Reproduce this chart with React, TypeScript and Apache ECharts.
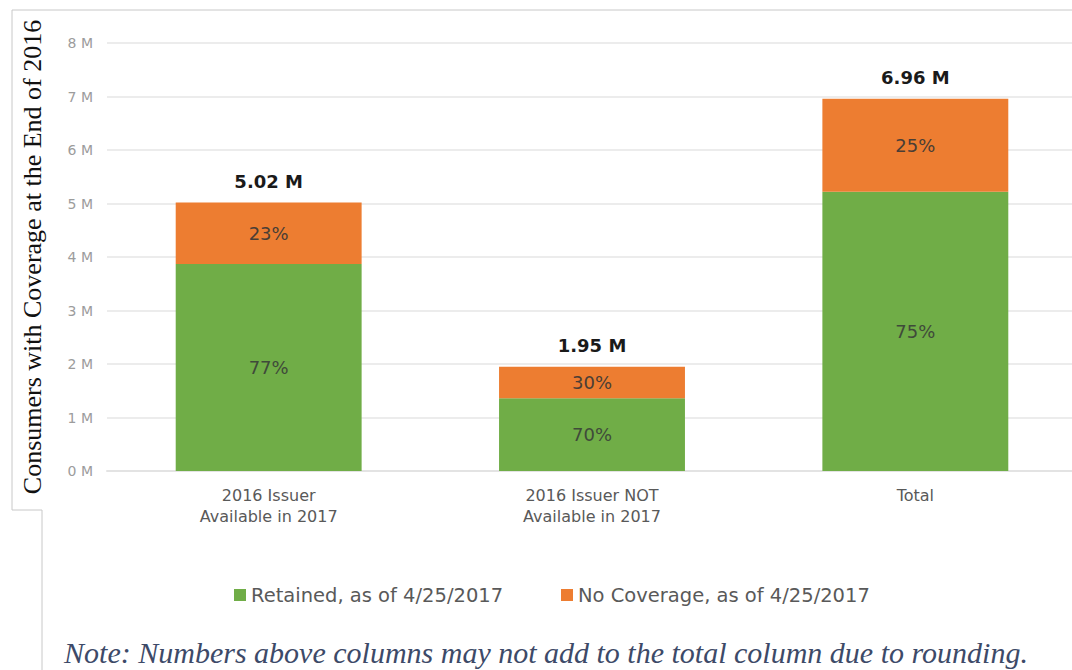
import React, { useEffect, useRef } from "react";
import * as echarts from "echarts";

const categories = ["2016 Issuer\nAvailable in 2017", "2016 Issuer NOT\nAvailable in 2017", "Total"];
const retained = [3.87, 1.36, 5.22];
const noCoverage = [1.15, 0.59, 1.74];
const retainedPct = ["77%", "70%", "75%"];
const noCoveragePct = ["23%", "30%", "25%"];
const totals = ["5.02 M", "1.95 M", "6.96 M"];
const seriesNames = ["Retained, as of 4/25/2017", "No Coverage, as of 4/25/2017"];
const yTitle = "Consumers with Coverage at the End of 2016";
const note = "Note: Numbers above columns may not add to the total column due to rounding.";

const SANS = "'DejaVu Sans', 'Noto Sans', sans-serif";
const SERIF = "'Liberation Serif', 'DejaVu Serif', serif";

export default function App() {
  const ref = useRef<HTMLDivElement>(null);
  useEffect(() => {
    if (!ref.current) return;
    const chart = echarts.init(ref.current, null, { renderer: "svg" });
    const legendText = { fontFamily: SANS, fontSize: 19.5, color: "#595959" };
    chart.setOption({
      animation: false,
      backgroundColor: "#ffffff",
      grid: { left: 107, right: 13, top: 43, bottom: 199 },
      legend: [
        {
          left: 229,
          top: 580,
          itemWidth: 12,
          itemHeight: 12,
          itemGap: 7,
          icon: "rect",
          textStyle: legendText,
          data: [seriesNames[0]],
        },
        {
          left: 556,
          top: 580,
          itemWidth: 12,
          itemHeight: 12,
          icon: "rect",
          textStyle: legendText,
          data: [seriesNames[1]],
        },
      ],
      xAxis: {
        type: "category",
        data: categories,
        axisTick: { show: false },
        axisLine: { lineStyle: { color: "#e3e3e3", width: 2 } },
        axisLabel: {
          fontFamily: SANS,
          fontSize: 16,
          color: "#595959",
          lineHeight: 21,
          margin: 14,
        },
      },
      yAxis: {
        type: "value",
        min: 0,
        max: 8,
        interval: 1,
        axisLine: { show: false },
        axisTick: { show: false },
        splitLine: { lineStyle: { color: "#ececec", width: 2 } },
        axisLabel: {
          fontFamily: SANS,
          fontSize: 14,
          color: "#9c9c9c",
          margin: 14,
          formatter: (v: number) => `${v} M`,
        },
      },
      series: [
        {
          name: seriesNames[0],
          type: "bar",
          stack: "a",
          data: retained,
          barCategoryGap: "42.5%",
          itemStyle: { color: "#70ad47" },
          label: {
            show: true,
            position: "inside",
            fontFamily: SANS,
            fontSize: 18,
            color: "#3f4a3a",
            formatter: (p: any) => retainedPct[p.dataIndex],
          },
        },
        {
          name: seriesNames[1],
          type: "bar",
          stack: "a",
          data: noCoverage,
          itemStyle: { color: "#ed7d31" },
          label: {
            show: true,
            position: "inside",
            fontFamily: SANS,
            fontSize: 18,
            color: "#4a3d35",
            formatter: (p: any) => noCoveragePct[p.dataIndex],
          },
        },
        {
          name: "total",
          type: "bar",
          stack: "a",
          data: [0, 0, 0],
          itemStyle: { color: "transparent" },
          label: {
            show: true,
            position: "top",
            distance: 12,
            fontFamily: SANS,
            fontSize: 18,
            fontWeight: "bold",
            color: "#1a1a1a",
            formatter: (p: any) => totals[p.dataIndex],
          },
        },
      ],
      graphic: [
        {
          type: "polyline",
          shape: { points: [[1090, 10], [12, 10], [12, 510], [42, 510], [42, 670]] },
          style: { stroke: "#c8c8c8", lineWidth: 1, fill: null },
          silent: true,
        },
        {
          type: "text",
          x: 32,
          y: 257,
          rotation: Math.PI / 2,
          style: {
            text: yTitle,
            fontFamily: SERIF,
            fontSize: 26,
            fill: "#111111",
            align: "center",
            verticalAlign: "middle",
          },
        },
        {
          type: "text",
          x: 546,
          y: 652,
          style: {
            text: note,
            fontFamily: SERIF,
            fontSize: 30,
            fontStyle: "italic",
            fill: "#3d4a68",
            align: "center",
            verticalAlign: "middle",
          },
        },
      ],
    });
    return () => chart.dispose();
  }, []);
  return (
    <div style={{ position: "fixed", left: 0, top: 0, width: 1072, height: 670, overflow: "hidden" }}>
      <div ref={ref} style={{ width: 1090, height: 670 }} />
    </div>
  );
}
